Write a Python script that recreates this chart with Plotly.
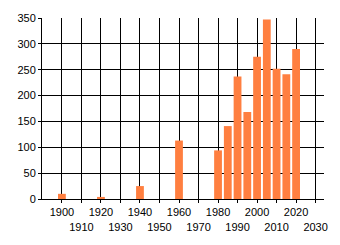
import plotly.graph_objects as go

years = [1900, 1920, 1940, 1960, 1980, 1985, 1990, 1995, 2000, 2005, 2010, 2015, 2020]
values = [10, 4, 25, 113, 94, 141, 237, 168, 275, 347, 252, 241, 290]

tick_vals = list(range(1900, 2031, 10))
tick_text = [str(v) if (v // 10) % 2 == 0 else "<br>" + str(v) for v in tick_vals]

fig = go.Figure()
fig.add_trace(go.Bar(x=years, y=values, width=4, marker=dict(color="#FF7F40", line=dict(width=0))))

font = dict(family="Liberation Sans, Arial, sans-serif", size=11, color="#000000")
fig.update_layout(
    width=340, height=245,
    margin=dict(l=42, r=16, t=15, b=44),
    paper_bgcolor="white", plot_bgcolor="white",
    showlegend=False,
    font=font,
    xaxis=dict(
        range=[1889.8, 2034.3],
        tickmode="array", tickvals=tick_vals, ticktext=tick_text,
        showgrid=True, gridcolor="black", gridwidth=1,
        showline=True, linecolor="black", linewidth=1,
        ticks="outside", ticklen=3, tickcolor="black",
        zeroline=False, tickangle=0,
    ),
    yaxis=dict(
        range=[0, 350], tickmode="array", tickvals=list(range(0, 351, 50)),
        showgrid=True, gridcolor="black", gridwidth=1,
        showline=True, linecolor="black", linewidth=1,
        ticks="outside", ticklen=3, tickcolor="black",
        zeroline=False,
    ),
)
fig.write_html("out.html")
